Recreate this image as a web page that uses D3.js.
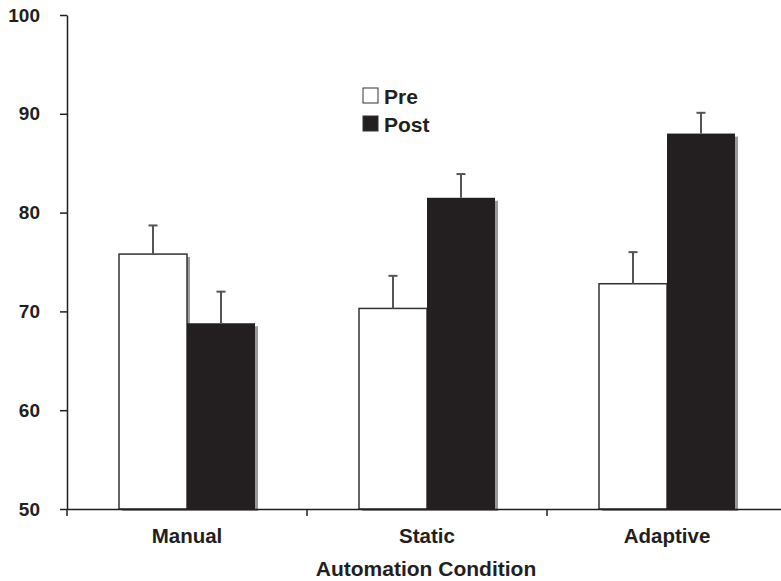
<!DOCTYPE html>
<html>
<head>
<meta charset="utf-8">
<script src="https://cdn.jsdelivr.net/npm/d3@7"></script>
<style>
  body { margin: 0; background: #fff; }
  text { font-family: "Liberation Sans", Arial, sans-serif; font-weight: bold; fill: #231f20; }
</style>
</head>
<body>
<svg id="chart" width="781" height="581"></svg>
<script>
const conditions = ['Manual', 'Static', 'Adaptive'];
const phases = ['Pre', 'Post'];
const preValues = [75.8, 70.3, 72.8];
const postValues = [68.8, 81.5, 88.0];
const preErrTop = [78.7, 73.6, 76.0];
const postErrTop = [72.0, 83.9, 90.1];
const yTicks = [50, 60, 70, 80, 90, 100];

const rows = [];
conditions.forEach((c, i) => {
  rows.push({ cond: c, phase: 'Pre', value: preValues[i], err: preErrTop[i] });
  rows.push({ cond: c, phase: 'Post', value: postValues[i], err: postErrTop[i] });
});

const svg = d3.select('#chart');
const plotLeft = 67, plotTop = 15, plotBottom = 509;

const x0 = d3.scaleBand()
  .domain(conditions)
  .range([plotLeft, plotLeft + 720]);

const x1 = d3.scaleBand()
  .domain(phases)
  .range([0, 136]);

const y = d3.scaleLinear()
  .domain([50, 100])
  .range([plotBottom, plotTop]);

const fill = { Pre: '#ffffff', Post: '#231f20' };
const barX = d => x0(d.cond) + (x0.bandwidth() - 136) / 2 + x1(d.phase);

// shadows
svg.append('g').selectAll('rect')
  .data(rows)
  .join('rect')
  .attr('x', d => barX(d) + 3)
  .attr('y', d => y(d.value) + 3)
  .attr('width', x1.bandwidth())
  .attr('height', d => plotBottom - y(d.value) - 1)
  .attr('fill', '#9a9a9a');

// bars
svg.append('g').selectAll('rect')
  .data(rows)
  .join('rect')
  .attr('x', d => barX(d))
  .attr('y', d => y(d.value))
  .attr('width', x1.bandwidth())
  .attr('height', d => plotBottom - y(d.value))
  .attr('fill', d => fill[d.phase])
  .attr('stroke', '#333')
  .attr('stroke-width', d => d.phase === 'Pre' ? 1.5 : 0);

// error bars (upper only)
const eb = svg.append('g').attr('stroke', '#555').attr('stroke-width', 2);
eb.selectAll('line.v')
  .data(rows)
  .join('line')
  .attr('class', 'v')
  .attr('x1', d => barX(d) + x1.bandwidth() / 2)
  .attr('x2', d => barX(d) + x1.bandwidth() / 2)
  .attr('y1', d => y(d.value))
  .attr('y2', d => y(d.err));
eb.selectAll('line.c')
  .data(rows)
  .join('line')
  .attr('class', 'c')
  .attr('x1', d => barX(d) + x1.bandwidth() / 2 - 4.5)
  .attr('x2', d => barX(d) + x1.bandwidth() / 2 + 4.5)
  .attr('y1', d => y(d.err))
  .attr('y2', d => y(d.err));

// y axis
const yAxis = svg.append('g')
  .attr('transform', `translate(${plotLeft},0)`)
  .call(d3.axisLeft(y).tickValues(yTicks).tickSize(7).tickSizeOuter(0).tickPadding(20));
yAxis.select('.domain').attr('stroke', '#231f20').attr('stroke-width', 1.5);
yAxis.selectAll('.tick line').attr('stroke', '#231f20').attr('stroke-width', 1.5);
yAxis.selectAll('.tick text').style('font-size', '19px').attr('fill', '#231f20');

// x axis
const xAxis = svg.append('g')
  .attr('transform', `translate(0,${plotBottom})`)
  .call(d3.axisBottom(x0).tickSize(0).tickPadding(19));
xAxis.select('.domain').attr('stroke', '#231f20').attr('stroke-width', 1.5);
xAxis.selectAll('.tick text').style('font-size', '20.5px').attr('fill', '#231f20');
xAxis.selectAll('line.sep')
  .data(conditions)
  .join('line')
  .attr('class', 'sep')
  .attr('x1', d => x0(d))
  .attr('x2', d => x0(d))
  .attr('y1', 0)
  .attr('y2', 7)
  .attr('stroke', '#231f20')
  .attr('stroke-width', 1.5);

svg.append('text')
  .attr('x', 426)
  .attr('y', 576)
  .attr('text-anchor', 'middle')
  .style('font-size', '21px')
  .text('Automation Condition');

// legend
const legend = svg.append('g').attr('transform', 'translate(363,88)');
phases.forEach((p, i) => {
  const g = legend.append('g').attr('transform', `translate(0,${i * 28})`);
  g.append('rect')
    .attr('width', 15).attr('height', 15)
    .attr('fill', fill[p])
    .attr('stroke', '#333')
    .attr('stroke-width', 1);
  g.append('text')
    .attr('x', 21).attr('y', 16)
    .style('font-size', '21px')
    .text(p);
});
</script>
</body>
</html>
